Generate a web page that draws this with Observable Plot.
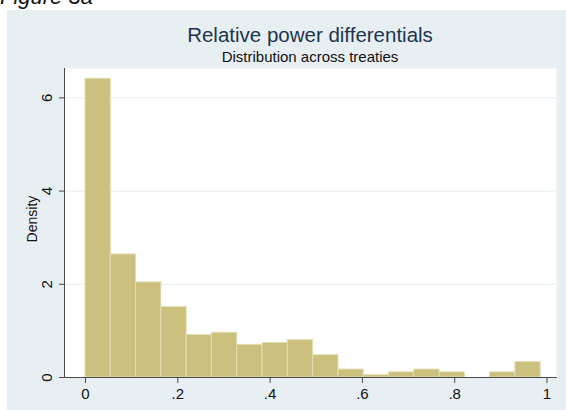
<!DOCTYPE html>
<html>
<head>
<meta charset="utf-8">
<script src="https://cdn.jsdelivr.net/npm/d3@7"></script>
<script src="https://cdn.jsdelivr.net/npm/@observablehq/plot@0.6"></script>
<style>
  html, body { margin: 0; padding: 0; background: #fff; }
  #wrap { position: relative; width: 566px; height: 410px; overflow: hidden; background: #fff;
          font-family: "Liberation Sans", Arial, sans-serif; }
  #fig { position: absolute; left: 0; top: -14px; font-size: 22px; font-style: italic; color: #111; line-height: 1; }
  #panel { position: absolute; left: 7px; top: 10px; right: 0; bottom: 0; background: #e8eff2; }
  #title { position: absolute; left: 64px; width: 492px; top: 24.5px; text-align: center;
           font-size: 20.5px; color: #1c3550; line-height: 1; white-space: nowrap; }
  #subtitle { position: absolute; left: 64px; width: 492px; top: 48.5px; text-align: center;
              font-size: 15px; color: #111; line-height: 1; white-space: nowrap; }
  #chart { position: absolute; left: 0; top: 62px; }
</style>
</head>
<body>
<div id="wrap">
  <div id="fig">Figure 3a</div>
  <div id="panel"></div>
  <div id="title">Relative power differentials</div>
  <div id="subtitle">Distribution across treaties</div>
  <div id="chart"></div>
</div>
<script>
// Histogram bin edges (relative power differential)
const binEdges = [0, 0.0548, 0.1096, 0.1644, 0.2192, 0.274, 0.3288, 0.3836, 0.4384, 0.4932,
                  0.548, 0.6028, 0.6576, 0.7124, 0.7672, 0.822, 0.8768, 0.9316, 0.9864];
// Density of each bin
const densities = [6.41, 2.64, 2.04, 1.51, 0.91, 0.96, 0.70, 0.74, 0.80,
                   0.48, 0.17, 0.05, 0.11, 0.17, 0.11, 0, 0.11, 0.33];
const xTicks = [0, 0.2, 0.4, 0.6, 0.8, 1];
const xTickLabels = ["0", ".2", ".4", ".6", ".8", "1"];
const yTicks = [0, 2, 4, 6];
const yTickLabels = ["0", "2", "4", "6"];

const bins = densities.map((d, i) => ({x1: binEdges[i], x2: binEdges[i + 1], density: d}));

const axisColor = "#4a4a4a";

const chart = Plot.plot({
  width: 566,
  height: 348,
  marginLeft: 64,
  marginRight: 10,
  marginTop: 6,
  marginBottom: 33,
  style: {background: "transparent", fontFamily: "Liberation Sans, Arial, sans-serif", fontSize: "15px", color: "#111"},
  x: {domain: [0, 1], insetLeft: 21, insetRight: 9.5},
  y: {domain: [0, 6.63]},
  marks: [
    Plot.frame({fill: "white", stroke: null}),
    Plot.gridY(yTicks.filter(t => t > 0), {stroke: "#e6ecee", strokeOpacity: 1, strokeWidth: 1}),
    Plot.rectY(bins, {x1: "x1", x2: "x2", y1: 0, y2: "density", fill: "#cbc07d", stroke: "#e3ddb2", strokeWidth: 1}),
    Plot.frame({anchor: "left", stroke: axisColor, strokeWidth: 1}),
    Plot.frame({anchor: "bottom", stroke: axisColor, strokeWidth: 1}),
    Plot.axisX(xTicks, {tickSize: 6, tickPadding: 5, stroke: axisColor, tickFormat: (d, i) => xTickLabels[i], label: null, fontSize: 15, fill: "#111"}),
    Plot.axisY(yTicks, {tickSize: 5, stroke: axisColor, tickFormat: () => "", label: null}),
    Plot.text(yTicks, {y: d => d, frameAnchor: "left", dx: -17, rotate: -90, text: (d, i) => yTickLabels[i],
                       textAnchor: "middle", lineAnchor: "middle", fontSize: 15, fill: "#111"}),
    Plot.text(["Density"], {frameAnchor: "left", dx: -32, y: 3.4, rotate: -90, text: d => d,
                            textAnchor: "middle", lineAnchor: "middle", fontSize: 14, fill: "#111"})
  ]
});
document.getElementById("chart").appendChild(chart);
</script>
</body>
</html>
